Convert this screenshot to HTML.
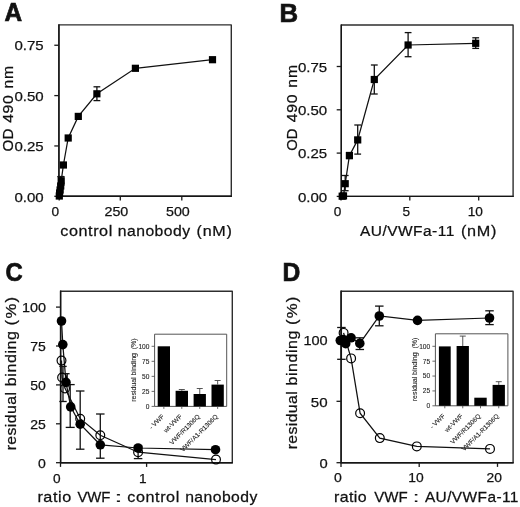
<!DOCTYPE html>
<html><head><meta charset="utf-8"><style>
html,body{margin:0;padding:0;background:#fff;width:520px;height:507px;overflow:hidden}
svg{display:block;will-change:transform}
text{font-family:"Liberation Sans", sans-serif;fill:#111;stroke:#111;stroke-width:0.25px}
text.sm{fill:#222;stroke:#222;stroke-width:0.1px}
</style></head><body>
<svg width="520" height="507" viewBox="0 0 520 507">
<rect width="520" height="507" fill="#fff"/>
<text x="4.4" y="21.2" font-size="25" textLength="17.6" lengthAdjust="spacingAndGlyphs" font-weight="bold" style="stroke-width:0.7px">A</text>
<rect x="58.9" y="24.9" width="172.4" height="171.4" fill="none" stroke="#2e2e2e" stroke-width="1.4" stroke-linejoin="round"/>
<polyline points="58.9,24.3 58.9,196.3 231.9,196.3" fill="none" stroke="#151515" stroke-width="1.4"/>
<line x1="54.3" y1="196.3" x2="58.9" y2="196.3" stroke="#1a1a1a" stroke-width="1.3"/>
<text x="43.6" y="201.5" font-size="13.5" text-anchor="end" textLength="29.2" lengthAdjust="spacingAndGlyphs">0.00</text>
<line x1="54.3" y1="145.95" x2="58.9" y2="145.95" stroke="#1a1a1a" stroke-width="1.3"/>
<text x="43.6" y="151.15" font-size="13.5" text-anchor="end" textLength="29.2" lengthAdjust="spacingAndGlyphs">0.25</text>
<line x1="54.3" y1="95.6" x2="58.9" y2="95.6" stroke="#1a1a1a" stroke-width="1.3"/>
<text x="43.6" y="100.8" font-size="13.5" text-anchor="end" textLength="29.2" lengthAdjust="spacingAndGlyphs">0.50</text>
<line x1="54.3" y1="45.25" x2="58.9" y2="45.25" stroke="#1a1a1a" stroke-width="1.3"/>
<text x="43.6" y="50.45" font-size="13.5" text-anchor="end" textLength="29.2" lengthAdjust="spacingAndGlyphs">0.75</text>
<line x1="59.2" y1="196.3" x2="59.2" y2="200.5" stroke="#1a1a1a" stroke-width="1.3"/>
<text x="55.3" y="215.7" font-size="13.5" text-anchor="middle" textLength="7.6" lengthAdjust="spacingAndGlyphs">0</text>
<line x1="120.3" y1="196.3" x2="120.3" y2="200.5" stroke="#1a1a1a" stroke-width="1.3"/>
<text x="116.4" y="215.7" font-size="13.5" text-anchor="middle" textLength="23.8" lengthAdjust="spacingAndGlyphs">250</text>
<line x1="181.8" y1="196.3" x2="181.8" y2="200.5" stroke="#1a1a1a" stroke-width="1.3"/>
<text x="177.9" y="215.7" font-size="13.5" text-anchor="middle" textLength="23.8" lengthAdjust="spacingAndGlyphs">500</text>
<text transform="translate(12.6,150.7) rotate(-90) scale(1.0102,1)" x="-0.71" y="0" font-size="15" textLength="22.712" lengthAdjust="spacing">OD</text>
<text transform="translate(12.6,122.5) rotate(-90) scale(1.054,1)" x="-0.344" y="0" font-size="15" textLength="26.262" lengthAdjust="spacing">490</text>
<text transform="translate(12.6,87.5) rotate(-90) scale(1.0463,1)" x="-0.996" y="0" font-size="15" textLength="21.672" lengthAdjust="spacing">nm</text>
<text transform="translate(61,236) scale(1.0786,1)" x="-0.637" y="0" font-size="15" textLength="48.183" lengthAdjust="spacing">control</text>
<text transform="translate(118.8,236) scale(1.0496,1)" x="-0.996" y="0" font-size="15" textLength="68.959" lengthAdjust="spacing">nanobody</text>
<text transform="translate(197.6,236) scale(1.0748,1)" x="-0.93" y="0" font-size="15" textLength="32.843" lengthAdjust="spacing">(nM)</text>
<polyline points="59.3,196 59.6,193 60.1,190 60.7,186 61.2,180.8 63.4,165 68.2,138 78.3,116.4 96.9,93.8 135.4,68.3 212.5,59.7" fill="none" stroke="#111" stroke-width="1.25"/>
<line x1="96.9" y1="86.8" x2="96.9" y2="100.6" stroke="#111" stroke-width="1.3"/>
<line x1="93.5" y1="86.8" x2="100.3" y2="86.8" stroke="#111" stroke-width="1.3"/>
<line x1="93.5" y1="100.6" x2="100.3" y2="100.6" stroke="#111" stroke-width="1.3"/>
<line x1="60.7" y1="176.6" x2="60.7" y2="185" stroke="#111" stroke-width="1.3"/>
<line x1="57.3" y1="176.6" x2="64.1" y2="176.6" stroke="#111" stroke-width="1.3"/>
<line x1="57.3" y1="185" x2="64.1" y2="185" stroke="#111" stroke-width="1.3"/>
<line x1="61.2" y1="176.6" x2="61.2" y2="185" stroke="#111" stroke-width="1.3"/>
<line x1="57.8" y1="176.6" x2="64.6" y2="176.6" stroke="#111" stroke-width="1.3"/>
<line x1="57.8" y1="185" x2="64.6" y2="185" stroke="#111" stroke-width="1.3"/>
<rect x="55.7" y="192.4" width="7.2" height="7.2" fill="#000"/>
<rect x="56.0" y="189.4" width="7.2" height="7.2" fill="#000"/>
<rect x="56.5" y="186.4" width="7.2" height="7.2" fill="#000"/>
<rect x="57.1" y="182.4" width="7.2" height="7.2" fill="#000"/>
<rect x="57.6" y="177.2" width="7.2" height="7.2" fill="#000"/>
<rect x="59.8" y="161.4" width="7.2" height="7.2" fill="#000"/>
<rect x="64.6" y="134.4" width="7.2" height="7.2" fill="#000"/>
<rect x="74.7" y="112.8" width="7.2" height="7.2" fill="#000"/>
<rect x="93.3" y="90.2" width="7.2" height="7.2" fill="#000"/>
<rect x="131.8" y="64.7" width="7.2" height="7.2" fill="#000"/>
<rect x="208.9" y="56.1" width="7.2" height="7.2" fill="#000"/>
<text x="279.5" y="21.7" font-size="25" textLength="18.6" lengthAdjust="spacingAndGlyphs" font-weight="bold" style="stroke-width:0.7px">B</text>
<rect x="341.3" y="25" width="171.8" height="171.4" fill="none" stroke="#2e2e2e" stroke-width="1.4" stroke-linejoin="round"/>
<polyline points="341.3,24.4 341.3,196.4 513.7,196.4" fill="none" stroke="#151515" stroke-width="1.4"/>
<line x1="336.7" y1="196.4" x2="341.3" y2="196.4" stroke="#1a1a1a" stroke-width="1.3"/>
<text x="327.2" y="201.6" font-size="13.5" text-anchor="end" textLength="29.2" lengthAdjust="spacingAndGlyphs">0.00</text>
<line x1="336.7" y1="153.1" x2="341.3" y2="153.1" stroke="#1a1a1a" stroke-width="1.3"/>
<text x="327.2" y="158.3" font-size="13.5" text-anchor="end" textLength="29.2" lengthAdjust="spacingAndGlyphs">0.25</text>
<line x1="336.7" y1="109.8" x2="341.3" y2="109.8" stroke="#1a1a1a" stroke-width="1.3"/>
<text x="327.2" y="115.0" font-size="13.5" text-anchor="end" textLength="29.2" lengthAdjust="spacingAndGlyphs">0.50</text>
<line x1="336.7" y1="66.5" x2="341.3" y2="66.5" stroke="#1a1a1a" stroke-width="1.3"/>
<text x="327.2" y="71.7" font-size="13.5" text-anchor="end" textLength="29.2" lengthAdjust="spacingAndGlyphs">0.75</text>
<line x1="341.0" y1="196.4" x2="341.0" y2="200.6" stroke="#1a1a1a" stroke-width="1.3"/>
<text x="337.6" y="216.1" font-size="13.5" text-anchor="middle" textLength="7.6" lengthAdjust="spacingAndGlyphs">0</text>
<line x1="409.8" y1="196.4" x2="409.8" y2="200.6" stroke="#1a1a1a" stroke-width="1.3"/>
<text x="406.4" y="216.1" font-size="13.5" text-anchor="middle" textLength="7.6" lengthAdjust="spacingAndGlyphs">5</text>
<line x1="478.7" y1="196.4" x2="478.7" y2="200.6" stroke="#1a1a1a" stroke-width="1.3"/>
<text x="475.3" y="216.1" font-size="13.5" text-anchor="middle" textLength="15.2" lengthAdjust="spacingAndGlyphs">10</text>
<text transform="translate(296.6,150.0) rotate(-90) scale(0.9912,1)" x="-0.71" y="0" font-size="15" textLength="22.312" lengthAdjust="spacing">OD</text>
<text transform="translate(296.6,121.8) rotate(-90) scale(1.054,1)" x="-0.344" y="0" font-size="15" textLength="26.262" lengthAdjust="spacing">490</text>
<text transform="translate(296.6,86.8) rotate(-90) scale(1.0516,1)" x="-0.996" y="0" font-size="15" textLength="21.763" lengthAdjust="spacing">nm</text>
<text transform="translate(360.1,236.2) scale(1.0332,1)" x="-0.029" y="0" font-size="15" textLength="91.164" lengthAdjust="spacing">AU/VWFa-11</text>
<text transform="translate(461.9,236.2) scale(1.08,1)" x="-0.93" y="0" font-size="15" textLength="32.972" lengthAdjust="spacing">(nM)</text>
<polyline points="342.2,196.2 343.5,195.9 345.2,183.7 349.4,155.6 357.7,139.9 374.3,79.5 408.1,45 475.7,43.3" fill="none" stroke="#111" stroke-width="1.25"/>
<line x1="475.7" y1="37.8" x2="475.7" y2="48.4" stroke="#111" stroke-width="1.3"/>
<line x1="472.3" y1="37.8" x2="479.1" y2="37.8" stroke="#111" stroke-width="1.3"/>
<line x1="472.3" y1="48.4" x2="479.1" y2="48.4" stroke="#111" stroke-width="1.3"/>
<line x1="408.1" y1="32.6" x2="408.1" y2="56.7" stroke="#111" stroke-width="1.3"/>
<line x1="404.7" y1="32.6" x2="411.5" y2="32.6" stroke="#111" stroke-width="1.3"/>
<line x1="404.7" y1="56.7" x2="411.5" y2="56.7" stroke="#111" stroke-width="1.3"/>
<line x1="374.3" y1="65" x2="374.3" y2="94" stroke="#111" stroke-width="1.3"/>
<line x1="370.9" y1="65" x2="377.7" y2="65" stroke="#111" stroke-width="1.3"/>
<line x1="370.9" y1="94" x2="377.7" y2="94" stroke="#111" stroke-width="1.3"/>
<line x1="357.7" y1="125" x2="357.7" y2="154.1" stroke="#111" stroke-width="1.3"/>
<line x1="354.3" y1="125" x2="361.1" y2="125" stroke="#111" stroke-width="1.3"/>
<line x1="354.3" y1="154.1" x2="361.1" y2="154.1" stroke="#111" stroke-width="1.3"/>
<line x1="345.2" y1="175.5" x2="345.2" y2="190.7" stroke="#111" stroke-width="1.3"/>
<line x1="341.8" y1="175.5" x2="348.6" y2="175.5" stroke="#111" stroke-width="1.3"/>
<line x1="341.8" y1="190.7" x2="348.6" y2="190.7" stroke="#111" stroke-width="1.3"/>
<line x1="349.4" y1="152.5" x2="349.4" y2="158.5" stroke="#111" stroke-width="1.3"/>
<line x1="346.0" y1="152.5" x2="352.8" y2="152.5" stroke="#111" stroke-width="1.3"/>
<line x1="346.0" y1="158.5" x2="352.8" y2="158.5" stroke="#111" stroke-width="1.3"/>
<rect x="338.6" y="192.6" width="7.2" height="7.2" fill="#000"/>
<rect x="339.9" y="192.3" width="7.2" height="7.2" fill="#000"/>
<rect x="341.6" y="180.1" width="7.2" height="7.2" fill="#000"/>
<rect x="345.8" y="152.0" width="7.2" height="7.2" fill="#000"/>
<rect x="354.1" y="136.3" width="7.2" height="7.2" fill="#000"/>
<rect x="370.7" y="75.9" width="7.2" height="7.2" fill="#000"/>
<rect x="404.5" y="41.4" width="7.2" height="7.2" fill="#000"/>
<rect x="472.1" y="39.7" width="7.2" height="7.2" fill="#000"/>
<text x="5.6" y="281.2" font-size="25" textLength="17.2" lengthAdjust="spacingAndGlyphs" font-weight="bold" style="stroke-width:0.7px">C</text>
<rect x="60.6" y="291.2" width="171.7" height="171.5" fill="none" stroke="#2e2e2e" stroke-width="1.4" stroke-linejoin="round"/>
<polyline points="60.6,290.6 60.6,462.7 232.9,462.7" fill="none" stroke="#151515" stroke-width="1.4"/>
<line x1="56.0" y1="462.7" x2="60.6" y2="462.7" stroke="#1a1a1a" stroke-width="1.3"/>
<text x="45.9" y="467.8" font-size="13.5" text-anchor="end" textLength="7.8" lengthAdjust="spacingAndGlyphs">0</text>
<line x1="56.0" y1="423.8" x2="60.6" y2="423.8" stroke="#1a1a1a" stroke-width="1.3"/>
<text x="45.9" y="428.9" font-size="13.5" text-anchor="end" textLength="15.6" lengthAdjust="spacingAndGlyphs">25</text>
<line x1="56.0" y1="384.9" x2="60.6" y2="384.9" stroke="#1a1a1a" stroke-width="1.3"/>
<text x="45.9" y="390.0" font-size="13.5" text-anchor="end" textLength="15.6" lengthAdjust="spacingAndGlyphs">50</text>
<line x1="56.0" y1="346.0" x2="60.6" y2="346.0" stroke="#1a1a1a" stroke-width="1.3"/>
<text x="45.9" y="351.1" font-size="13.5" text-anchor="end" textLength="15.6" lengthAdjust="spacingAndGlyphs">75</text>
<line x1="56.0" y1="307.1" x2="60.6" y2="307.1" stroke="#1a1a1a" stroke-width="1.3"/>
<text x="45.9" y="312.2" font-size="13.5" text-anchor="end" textLength="24" lengthAdjust="spacingAndGlyphs">100</text>
<line x1="60.5" y1="462.7" x2="60.5" y2="466.9" stroke="#1a1a1a" stroke-width="1.3"/>
<text x="56.8" y="482.5" font-size="13.5" text-anchor="middle" textLength="7.6" lengthAdjust="spacingAndGlyphs">0</text>
<line x1="146.6" y1="462.7" x2="146.6" y2="466.9" stroke="#1a1a1a" stroke-width="1.3"/>
<text x="142.9" y="482.5" font-size="13.5" text-anchor="middle" textLength="7.6" lengthAdjust="spacingAndGlyphs">1</text>
<text transform="translate(16.4,449.3) rotate(-90) scale(1.0561,1)" x="-0.996" y="0" font-size="15" textLength="55.214" lengthAdjust="spacing">residual</text>
<text transform="translate(16.4,385.1) rotate(-90) scale(1.0706,1)" x="-0.967" y="0" font-size="15" textLength="51.439" lengthAdjust="spacing">binding</text>
<text transform="translate(16.4,324.4) rotate(-90) scale(1.1172,1)" x="-0.93" y="0" font-size="15" textLength="25.58" lengthAdjust="spacing">(%)</text>
<text transform="translate(38.5,502.4) scale(1.0807,1)" x="-0.996" y="0" font-size="15" textLength="31.237" lengthAdjust="spacing">ratio</text>
<text transform="translate(77.5,502.4) scale(0.9945,1)" x="-0.066" y="0" font-size="15" textLength="33.145" lengthAdjust="spacing">VWF</text>
<text transform="translate(117.2,502.4) scale(1.8905,1)" x="-1.37" y="0" font-size="15" textLength="4.167" lengthAdjust="spacing">:</text>
<text transform="translate(128,502.4) scale(1.0786,1)" x="-0.637" y="0" font-size="15" textLength="48.183" lengthAdjust="spacing">control</text>
<text transform="translate(186.2,502.4) scale(1.048,1)" x="-0.996" y="0" font-size="15" textLength="68.868" lengthAdjust="spacing">nanobody</text>
<rect x="154.6" y="334.2" width="72.1" height="72.2" fill="none" stroke="#555" stroke-width="1.0" stroke-linejoin="round"/>
<line x1="151.6" y1="406.4" x2="154.6" y2="406.4" stroke="#444" stroke-width="0.8"/>
<text x="149.4" y="408.8" font-size="6.6" text-anchor="end" class="sm">0</text>
<line x1="151.6" y1="391.38" x2="154.6" y2="391.38" stroke="#444" stroke-width="0.8"/>
<text x="149.4" y="393.77" font-size="6.6" text-anchor="end" class="sm">25</text>
<line x1="151.6" y1="376.35" x2="154.6" y2="376.35" stroke="#444" stroke-width="0.8"/>
<text x="149.4" y="378.75" font-size="6.6" text-anchor="end" class="sm">50</text>
<line x1="151.6" y1="361.32" x2="154.6" y2="361.32" stroke="#444" stroke-width="0.8"/>
<text x="149.4" y="363.72" font-size="6.6" text-anchor="end" class="sm">75</text>
<line x1="151.6" y1="346.3" x2="154.6" y2="346.3" stroke="#444" stroke-width="0.8"/>
<text x="149.4" y="348.7" font-size="6.6" text-anchor="end" class="sm">100</text>
<rect x="157.7" y="346.3" width="12.3" height="60.1" fill="#000"/>
<line x1="163.85" y1="406.4" x2="163.85" y2="408.9" stroke="#444" stroke-width="0.8"/>
<rect x="175.6" y="390.8" width="12.4" height="15.6" fill="#000"/>
<line x1="181.8" y1="406.4" x2="181.8" y2="408.9" stroke="#444" stroke-width="0.8"/>
<line x1="181.8" y1="389.5" x2="181.8" y2="390.8" stroke="#444" stroke-width="0.9"/>
<line x1="178.8" y1="389.5" x2="184.8" y2="389.5" stroke="#444" stroke-width="0.9"/>
<rect x="193.6" y="394" width="12.3" height="12.4" fill="#000"/>
<line x1="199.75" y1="406.4" x2="199.75" y2="408.9" stroke="#444" stroke-width="0.8"/>
<line x1="199.75" y1="388.5" x2="199.75" y2="394" stroke="#444" stroke-width="0.9"/>
<line x1="196.75" y1="388.5" x2="202.75" y2="388.5" stroke="#444" stroke-width="0.9"/>
<rect x="211.5" y="384.6" width="12.3" height="21.8" fill="#000"/>
<line x1="217.65" y1="406.4" x2="217.65" y2="408.9" stroke="#444" stroke-width="0.8"/>
<line x1="217.65" y1="380.5" x2="217.65" y2="384.6" stroke="#444" stroke-width="0.9"/>
<line x1="214.65" y1="380.5" x2="220.65" y2="380.5" stroke="#444" stroke-width="0.9"/>
<text class="sm" transform="translate(136.2,401.8) rotate(-90)" font-size="6.3" textLength="63.4" lengthAdjust="spacingAndGlyphs">residual binding&#160;&#160;(%)</text>
<text transform="translate(164.45,417.0) rotate(-45)" font-size="6.4" text-anchor="end" class="sm">- VWF</text>
<text transform="translate(182.4,417.0) rotate(-45)" font-size="6.4" text-anchor="end" class="sm">wt-VWF</text>
<text transform="translate(200.35,417.0) rotate(-45)" font-size="6.4" text-anchor="end" class="sm">VWF/R1306Q</text>
<text transform="translate(218.25,417.0) rotate(-45)" font-size="6.4" text-anchor="end" class="sm">VWF/A1-R1306Q</text>
<polyline points="61.5,321 62.8,344.6 66,382.4 70.7,406.9 80.2,424.2 100.3,444.8 138.1,448 215.5,449.7" fill="none" stroke="#111" stroke-width="1.25"/>
<polyline points="61.5,360.6 62.1,377.5 65,388.4 80.2,418.7 100.3,435.3 138.1,452.2 216,459.6" fill="none" stroke="#111" stroke-width="1.25"/>
<line x1="63.0" y1="366.4" x2="63.0" y2="401.5" stroke="#111" stroke-width="1.3"/>
<line x1="59.3" y1="366.4" x2="66.7" y2="366.4" stroke="#111" stroke-width="1.3"/>
<line x1="59.3" y1="401.5" x2="66.7" y2="401.5" stroke="#111" stroke-width="1.3"/>
<line x1="67.2" y1="373.7" x2="67.2" y2="384.6" stroke="#111" stroke-width="1.3"/>
<line x1="64.8" y1="373.7" x2="69.6" y2="373.7" stroke="#111" stroke-width="1.3"/>
<line x1="64.8" y1="384.6" x2="69.6" y2="384.6" stroke="#111" stroke-width="1.3"/>
<line x1="70.2" y1="384.6" x2="70.2" y2="427.4" stroke="#111" stroke-width="1.3"/>
<line x1="65.7" y1="384.6" x2="74.7" y2="384.6" stroke="#111" stroke-width="1.3"/>
<line x1="65.7" y1="427.4" x2="74.7" y2="427.4" stroke="#111" stroke-width="1.3"/>
<line x1="80.2" y1="391" x2="80.2" y2="449.2" stroke="#111" stroke-width="1.3"/>
<line x1="75.95" y1="391" x2="84.45" y2="391" stroke="#111" stroke-width="1.3"/>
<line x1="75.95" y1="449.2" x2="84.45" y2="449.2" stroke="#111" stroke-width="1.3"/>
<line x1="100.3" y1="414" x2="100.3" y2="458.2" stroke="#111" stroke-width="1.3"/>
<line x1="96.05" y1="414" x2="104.55" y2="414" stroke="#111" stroke-width="1.3"/>
<line x1="96.05" y1="458.2" x2="104.55" y2="458.2" stroke="#111" stroke-width="1.3"/>
<line x1="138.1" y1="446" x2="138.1" y2="458.6" stroke="#111" stroke-width="1.3"/>
<line x1="133.85" y1="446" x2="142.35" y2="446" stroke="#111" stroke-width="1.3"/>
<line x1="133.85" y1="458.6" x2="142.35" y2="458.6" stroke="#111" stroke-width="1.3"/>
<circle cx="61.5" cy="360.6" r="4.4" fill="none" stroke="#000" stroke-width="1.2"/>
<circle cx="62.1" cy="377.5" r="4.4" fill="none" stroke="#000" stroke-width="1.2"/>
<circle cx="65" cy="388.4" r="4.4" fill="none" stroke="#000" stroke-width="1.2"/>
<circle cx="80.2" cy="418.7" r="4.4" fill="none" stroke="#000" stroke-width="1.2"/>
<circle cx="100.3" cy="435.3" r="4.4" fill="none" stroke="#000" stroke-width="1.2"/>
<circle cx="138.1" cy="452.2" r="4.4" fill="none" stroke="#000" stroke-width="1.2"/>
<circle cx="216" cy="459.6" r="4.4" fill="none" stroke="#000" stroke-width="1.2"/>
<circle cx="61.5" cy="321" r="4.8" fill="#000"/>
<circle cx="62.8" cy="344.6" r="4.8" fill="#000"/>
<circle cx="66" cy="382.4" r="4.8" fill="#000"/>
<circle cx="70.7" cy="406.9" r="4.8" fill="#000"/>
<circle cx="80.2" cy="424.2" r="4.8" fill="#000"/>
<circle cx="100.3" cy="444.8" r="4.8" fill="#000"/>
<circle cx="138.1" cy="448" r="4.8" fill="#000"/>
<circle cx="215.5" cy="449.7" r="4.8" fill="#000"/>
<text x="282.6" y="280.6" font-size="25" textLength="17.8" lengthAdjust="spacingAndGlyphs" font-weight="bold" style="stroke-width:0.7px">D</text>
<rect x="341.1" y="291.2" width="172.0" height="171.5" fill="none" stroke="#2e2e2e" stroke-width="1.4" stroke-linejoin="round"/>
<polyline points="341.1,290.6 341.1,462.7 513.7,462.7" fill="none" stroke="#151515" stroke-width="1.4"/>
<line x1="336.5" y1="462.7" x2="341.1" y2="462.7" stroke="#1a1a1a" stroke-width="1.3"/>
<text x="327.6" y="467.9" font-size="13.5" text-anchor="end" textLength="8.2" lengthAdjust="spacingAndGlyphs">0</text>
<line x1="336.5" y1="401.32" x2="341.1" y2="401.32" stroke="#1a1a1a" stroke-width="1.3"/>
<text x="327.6" y="406.52" font-size="13.5" text-anchor="end" textLength="16.8" lengthAdjust="spacingAndGlyphs">50</text>
<line x1="336.5" y1="339.94" x2="341.1" y2="339.94" stroke="#1a1a1a" stroke-width="1.3"/>
<text x="327.6" y="344.64" font-size="13.5" text-anchor="end" textLength="24.2" lengthAdjust="spacingAndGlyphs">100</text>
<line x1="341" y1="462.7" x2="341" y2="466.9" stroke="#1a1a1a" stroke-width="1.3"/>
<text x="337.8" y="482.3" font-size="13.5" text-anchor="middle" textLength="7.8" lengthAdjust="spacingAndGlyphs">0</text>
<line x1="419.2" y1="462.7" x2="419.2" y2="466.9" stroke="#1a1a1a" stroke-width="1.3"/>
<text x="416.0" y="482.3" font-size="13.5" text-anchor="middle" textLength="15.4" lengthAdjust="spacingAndGlyphs">10</text>
<line x1="497.5" y1="462.7" x2="497.5" y2="466.9" stroke="#1a1a1a" stroke-width="1.3"/>
<text x="494.3" y="482.3" font-size="13.5" text-anchor="middle" textLength="15.4" lengthAdjust="spacingAndGlyphs">20</text>
<text transform="translate(296.6,448.3) rotate(-90) scale(1.0531,1)" x="-0.996" y="0" font-size="15" textLength="55.079" lengthAdjust="spacing">residual</text>
<text transform="translate(296.6,384.4) rotate(-90) scale(1.0684,1)" x="-0.967" y="0" font-size="15" textLength="51.351" lengthAdjust="spacing">binding</text>
<text transform="translate(296.6,323.9) rotate(-90) scale(1.1126,1)" x="-0.93" y="0" font-size="15" textLength="25.5" lengthAdjust="spacing">(%)</text>
<text transform="translate(335,502.3) scale(1.0625,1)" x="-0.996" y="0" font-size="15" textLength="30.801" lengthAdjust="spacing">ratio</text>
<text transform="translate(374.2,502.3) scale(1.0022,1)" x="-0.066" y="0" font-size="15" textLength="33.396" lengthAdjust="spacing">VWF</text>
<text transform="translate(415,502.3) scale(1.4704,1)" x="-1.37" y="0" font-size="15" textLength="4.167" lengthAdjust="spacing">:</text>
<text transform="translate(424.9,502.3) scale(1.0297,1)" x="-0.029" y="0" font-size="15" textLength="90.882" lengthAdjust="spacing">AU/VWFa-11</text>
<rect x="435.4" y="333.8" width="72.5" height="72.0" fill="none" stroke="#555" stroke-width="1.0" stroke-linejoin="round"/>
<line x1="432.4" y1="405.8" x2="435.4" y2="405.8" stroke="#444" stroke-width="0.8"/>
<text x="430.2" y="408.2" font-size="6.6" text-anchor="end" class="sm">0</text>
<line x1="432.4" y1="390.93" x2="435.4" y2="390.93" stroke="#444" stroke-width="0.8"/>
<text x="430.2" y="393.32" font-size="6.6" text-anchor="end" class="sm">25</text>
<line x1="432.4" y1="376.05" x2="435.4" y2="376.05" stroke="#444" stroke-width="0.8"/>
<text x="430.2" y="378.45" font-size="6.6" text-anchor="end" class="sm">50</text>
<line x1="432.4" y1="361.18" x2="435.4" y2="361.18" stroke="#444" stroke-width="0.8"/>
<text x="430.2" y="363.57" font-size="6.6" text-anchor="end" class="sm">75</text>
<line x1="432.4" y1="346.3" x2="435.4" y2="346.3" stroke="#444" stroke-width="0.8"/>
<text x="430.2" y="348.7" font-size="6.6" text-anchor="end" class="sm">100</text>
<rect x="438.9" y="346.4" width="11.8" height="59.4" fill="#000"/>
<line x1="444.8" y1="405.8" x2="444.8" y2="408.3" stroke="#444" stroke-width="0.8"/>
<rect x="456.6" y="346" width="12.3" height="59.8" fill="#000"/>
<line x1="462.75" y1="405.8" x2="462.75" y2="408.3" stroke="#444" stroke-width="0.8"/>
<line x1="462.75" y1="336.1" x2="462.75" y2="346" stroke="#444" stroke-width="0.9"/>
<line x1="459.75" y1="336.1" x2="465.75" y2="336.1" stroke="#444" stroke-width="0.9"/>
<rect x="474.3" y="397.7" width="12.4" height="8.1" fill="#000"/>
<line x1="480.5" y1="405.8" x2="480.5" y2="408.3" stroke="#444" stroke-width="0.8"/>
<rect x="492.6" y="384.9" width="12.3" height="20.9" fill="#000"/>
<line x1="498.75" y1="405.8" x2="498.75" y2="408.3" stroke="#444" stroke-width="0.8"/>
<line x1="498.75" y1="381.7" x2="498.75" y2="384.9" stroke="#444" stroke-width="0.9"/>
<line x1="495.75" y1="381.7" x2="501.75" y2="381.7" stroke="#444" stroke-width="0.9"/>
<text class="sm" transform="translate(417.0,401.2) rotate(-90)" font-size="6.3" textLength="63.4" lengthAdjust="spacingAndGlyphs">residual binding&#160;&#160;(%)</text>
<text transform="translate(445.4,416.4) rotate(-45)" font-size="6.4" text-anchor="end" class="sm">- VWF</text>
<text transform="translate(463.35,416.4) rotate(-45)" font-size="6.4" text-anchor="end" class="sm">wt-VWF</text>
<text transform="translate(481.1,416.4) rotate(-45)" font-size="6.4" text-anchor="end" class="sm">VWF/R1306Q</text>
<text transform="translate(499.35,416.4) rotate(-45)" font-size="6.4" text-anchor="end" class="sm">VWF/A1-R1306Q</text>
<polyline points="343.6,332.9 351.1,358.4 360.1,413.2 379.8,438.1 416.8,446.4 490,448.9" fill="none" stroke="#111" stroke-width="1.25"/>
<polyline points="343.2,339.6 340.3,340.5 345.7,343.7 351.1,337.8 359.8,343.4 379.3,316 417.5,320.4 489.5,318" fill="none" stroke="#111" stroke-width="1.25"/>
<line x1="341.4" y1="327.5" x2="341.4" y2="359.3" stroke="#111" stroke-width="1.3"/>
<line x1="337.15" y1="327.5" x2="345.65" y2="327.5" stroke="#111" stroke-width="1.3"/>
<line x1="337.15" y1="359.3" x2="345.65" y2="359.3" stroke="#111" stroke-width="1.3"/>
<line x1="359.8" y1="337.8" x2="359.8" y2="349.5" stroke="#111" stroke-width="1.3"/>
<line x1="355.55" y1="337.8" x2="364.05" y2="337.8" stroke="#111" stroke-width="1.3"/>
<line x1="355.55" y1="349.5" x2="364.05" y2="349.5" stroke="#111" stroke-width="1.3"/>
<line x1="379.3" y1="306.1" x2="379.3" y2="325.8" stroke="#111" stroke-width="1.3"/>
<line x1="375.05" y1="306.1" x2="383.55" y2="306.1" stroke="#111" stroke-width="1.3"/>
<line x1="375.05" y1="325.8" x2="383.55" y2="325.8" stroke="#111" stroke-width="1.3"/>
<line x1="489.5" y1="310.8" x2="489.5" y2="324.6" stroke="#111" stroke-width="1.3"/>
<line x1="485.25" y1="310.8" x2="493.75" y2="310.8" stroke="#111" stroke-width="1.3"/>
<line x1="485.25" y1="324.6" x2="493.75" y2="324.6" stroke="#111" stroke-width="1.3"/>
<circle cx="343.6" cy="332.9" r="4.4" fill="none" stroke="#000" stroke-width="1.2"/>
<circle cx="351.1" cy="358.4" r="4.4" fill="none" stroke="#000" stroke-width="1.2"/>
<circle cx="360.1" cy="413.2" r="4.4" fill="none" stroke="#000" stroke-width="1.2"/>
<circle cx="379.8" cy="438.1" r="4.4" fill="none" stroke="#000" stroke-width="1.2"/>
<circle cx="416.8" cy="446.4" r="4.4" fill="none" stroke="#000" stroke-width="1.2"/>
<circle cx="490" cy="448.9" r="4.4" fill="none" stroke="#000" stroke-width="1.2"/>
<circle cx="343.2" cy="339.6" r="4.8" fill="#000"/>
<circle cx="340.3" cy="340.5" r="4.8" fill="#000"/>
<circle cx="345.7" cy="343.7" r="4.8" fill="#000"/>
<circle cx="351.1" cy="337.8" r="4.8" fill="#000"/>
<circle cx="359.8" cy="343.4" r="4.8" fill="#000"/>
<circle cx="379.3" cy="316" r="4.8" fill="#000"/>
<circle cx="417.5" cy="320.4" r="4.8" fill="#000"/>
<circle cx="489.5" cy="318" r="4.8" fill="#000"/>
</svg>
</body></html>
